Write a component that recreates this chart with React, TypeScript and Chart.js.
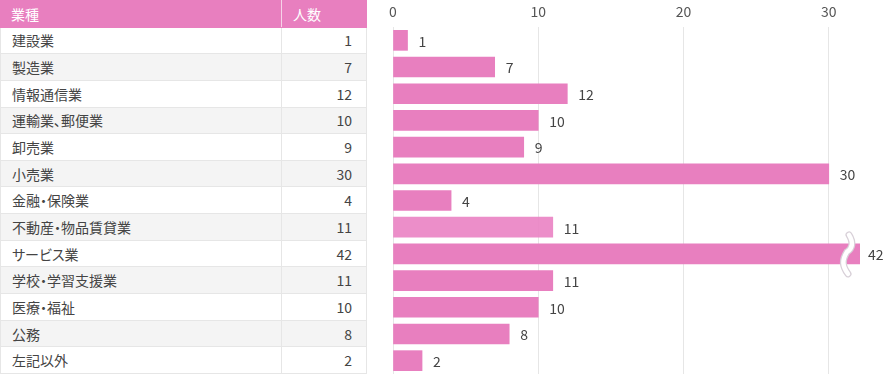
import React, { useEffect, useRef } from "react";
import { Chart, registerables } from "chart.js";

Chart.register(...registerables);

const categories = [
  "建設業",
  "製造業",
  "情報通信業",
  "運輸業、郵便業",
  "卸売業",
  "小売業",
  "金融・保険業",
  "不動産・物品賃貸業",
  "サービス業",
  "学校・学習支援業",
  "医療・福祉",
  "公務",
  "左記以外",
];
const counts = [1, 7, 12, 10, 9, 30, 4, 11, 42, 11, 10, 8, 2];
const headerLabels = ["業種", "人数"];
const axisMax = 32.15;
const highlightIndex = 7;

const FONT = '"Noto Sans CJK JP", "Noto Sans", sans-serif';
const PINK = "#e87fbf";
const PINK_LIGHT = "rgba(234,132,196,0.92)";

const labelPlugin = {
  id: "valueLabels",
  afterDatasetsDraw(chart: any) {
    const { ctx, chartArea } = chart;
    const meta = chart.getDatasetMeta(0);
    ctx.save();
    ctx.font = `14px ${FONT}`;
    ctx.fillStyle = "#444";
    ctx.textAlign = "left";
    ctx.textBaseline = "middle";
    meta.data.forEach((bar: any, i: number) => {
      const v = counts[i];
      const clipped = bar.x > chartArea.right;
      const x = clipped ? chartArea.right + 8 : bar.x + 11;
      ctx.fillText(String(v), x, bar.y + 1);
      if (clipped) {
        const bx = chartArea.right - 14;
        const top = bar.y - 19;
        const bot = bar.y + 20;
        const path = () => {
          ctx.beginPath();
          ctx.moveTo(bx + 3, top);
          ctx.bezierCurveTo(bx + 8, top + 8, bx + 6, top + 14, bx + 1, bar.y - 2);
          ctx.bezierCurveTo(bx - 4, bar.y + 6, bx - 4, bot - 8, bx + 2, bot);
        };
        ctx.lineCap = "round";
        path();
        ctx.strokeStyle = "#d8d0d8";
        ctx.lineWidth = 7;
        ctx.stroke();
        path();
        ctx.strokeStyle = "#ffffff";
        ctx.lineWidth = 4.5;
        ctx.stroke();
      }
    });
    ctx.restore();
  },
};

function BarChart() {
  const ref = useRef<HTMLCanvasElement>(null);
  useEffect(() => {
    const chart = new Chart(ref.current!, {
      type: "bar",
      data: {
        labels: categories,
        datasets: [
          {
            data: counts,
            backgroundColor: counts.map((_, i) => (i === highlightIndex ? PINK_LIGHT : PINK)),
            barThickness: 20,
            borderWidth: 0,
          },
        ],
      },
      options: {
        indexAxis: "y",
        animation: false,
        responsive: false,
        maintainAspectRatio: false,
        layout: { padding: { left: 23, right: 28, top: 0, bottom: 0 } },
        plugins: { legend: { display: false }, tooltip: { enabled: false } },
        scales: {
          x: {
            position: "top",
            min: 0,
            max: axisMax,
            ticks: {
              stepSize: 10,
              includeBounds: false,
              color: "#555",
              font: { size: 14, family: FONT },
              padding: 7,
            },
            grid: { color: "#e6e6e6", drawTicks: false, lineWidth: 1 },
            border: { display: false },
            afterFit(scale: any) {
              scale.height = 27;
            },
          },
          y: { display: false, grid: { display: false } },
        },
      },
      plugins: [labelPlugin],
    });
    return () => chart.destroy();
  }, []);
  return <canvas ref={ref} width={518} height={374} style={{ display: "block" }} />;
}

export default function App() {
  useEffect(() => {
    document.body.style.margin = "0";
  }, []);
  const rowH = 374 / 14;
  const cell: React.CSSProperties = {
    border: "1px solid #e6e6e6",
    padding: 0,
    height: rowH - 1,
    boxSizing: "border-box",
    fontSize: 14,
    color: "#444",
    whiteSpace: "nowrap",
    fontFeatureSettings: '"palt"',
  };
  return (
    <div style={{ position: "absolute", left: 0, top: 0, width: 888, height: 374, background: "#fff", fontFamily: FONT }}>
      <table
        style={{
          position: "absolute",
          left: 0,
          top: 0,
          width: 366,
          height: 374,
          borderCollapse: "collapse",
          tableLayout: "fixed",
        }}
      >
        <colgroup>
          <col style={{ width: 281 }} />
          <col style={{ width: 85 }} />
        </colgroup>
        <tbody>
          <tr>
            <td style={{ ...cell, background: PINK, color: "#fff", paddingLeft: 10, borderColor: PINK, borderRightColor: "#f6d3e8" }}>
              {headerLabels[0]}
            </td>
            <td style={{ ...cell, background: PINK, color: "#fff", paddingLeft: 11, borderColor: PINK }}>
              {headerLabels[1]}
            </td>
          </tr>
          {categories.map((c, i) => (
            <tr key={c} style={{ background: i % 2 === 1 ? "#f4f4f4" : "#fff" }}>
              <td style={{ ...cell, paddingLeft: 11 }}>{c}</td>
              <td style={{ ...cell, textAlign: "right", paddingRight: 14 }}>{counts[i]}</td>
            </tr>
          ))}
        </tbody>
      </table>
      <div style={{ position: "absolute", left: 370, top: 0 }}>
        <BarChart />
      </div>
    </div>
  );
}
